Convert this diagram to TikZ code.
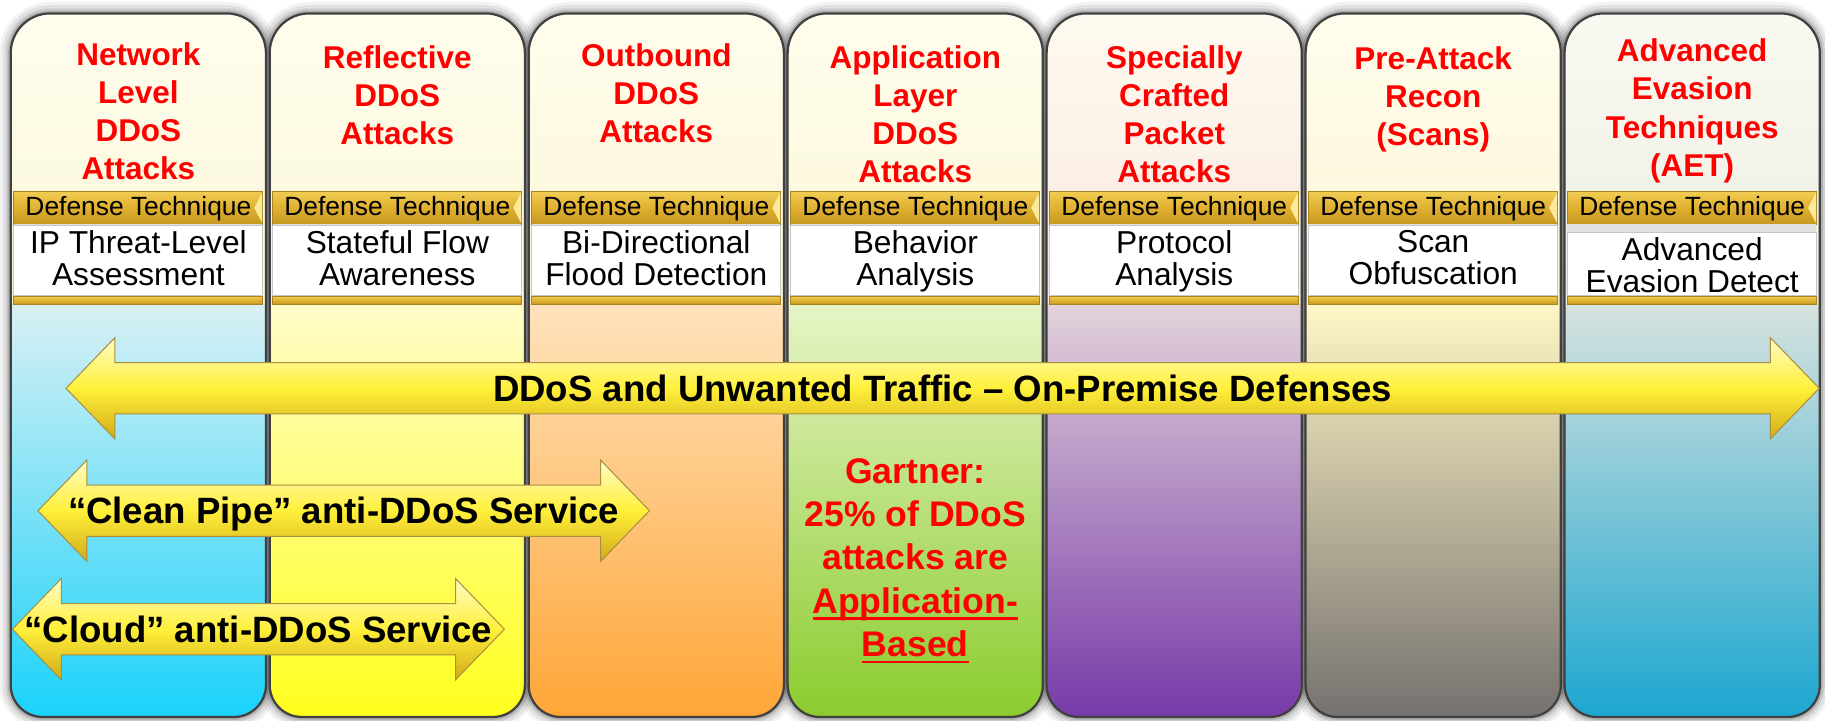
\documentclass[tikz,border=0pt]{standalone}
\usepackage{fontspec}
\setmainfont{Liberation Sans}
\usetikzlibrary{calc}

% column tints: upper (title) area and lower area, top and bottom of each gradient
\definecolor{upA0}{HTML}{FFFDEE}\definecolor{upB0}{HTML}{FCF7D8}
\definecolor{upA1}{HTML}{FFFDEE}\definecolor{upB1}{HTML}{FCF7D8}
\definecolor{upA2}{HTML}{FFFDEE}\definecolor{upB2}{HTML}{FCF5D6}
\definecolor{upA3}{HTML}{FFFDEE}\definecolor{upB3}{HTML}{FCF7D6}
\definecolor{upA4}{HTML}{FFFBF0}\definecolor{upB4}{HTML}{F7E8E0}
\definecolor{upA5}{HTML}{FFFDEE}\definecolor{upB5}{HTML}{FCF5D4}
\definecolor{upA6}{HTML}{FBFAF2}\definecolor{upB6}{HTML}{EBEDE2}
\definecolor{loA0}{HTML}{D8F0F4}\definecolor{loB0}{HTML}{18D2FA}
\definecolor{loA1}{HTML}{FFFCC8}\definecolor{loB1}{HTML}{FFFF1C}
\definecolor{loA2}{HTML}{FFE2BC}\definecolor{loB2}{HTML}{FFA535}
\definecolor{loA3}{HTML}{E6F4C6}\definecolor{loB3}{HTML}{8ACB2C}
\definecolor{loA4}{HTML}{E2D2DA}\definecolor{loB4}{HTML}{7638A8}
\definecolor{loA5}{HTML}{FFF6C6}\definecolor{loB5}{HTML}{74706E}
\definecolor{loA6}{HTML}{D6E2DE}\definecolor{loB6}{HTML}{1AA6D0}
\definecolor{goldA}{HTML}{F0CC52}
\definecolor{goldM}{HTML}{E0B030}
\definecolor{goldB}{HTML}{C49820}
\definecolor{goldEdge}{HTML}{A88420}
\definecolor{goldBevel}{HTML}{FAEB9A}
\definecolor{arrowHi}{HTML}{FFFBC8}
\definecolor{arrowMid}{HTML}{FFF03A}
\definecolor{arrowLo}{HTML}{D2AA18}
\definecolor{arrowEdge}{HTML}{A89040}
\definecolor{attackred}{HTML}{FF0000}

% outline of one column, left edge \L and right edge \R
\newcommand\colpath{(\L,300) [rounded corners=0.68cm] -- (\L,11.5) -- (\R,11.5) -- (\R,300) [rounded corners=0.55cm] -- (\R,616) -- (\L,616) -- cycle}

% double-headed banner arrow: left tip, right tip, centre line
\newcommand\banner[3]{%
  \shadedraw[bannerfill] (#1,#3) -- (#1+42,#3-43.5) -- (#1+42,#3-22) -- (#2-42,#3-22)
    -- (#2-42,#3-43.5) -- (#2,#3) -- (#2-42,#3+43.5) -- (#2-42,#3+22)
    -- (#1+42,#3+22) -- (#1+42,#3+43.5) -- cycle;}

% red underline sitting just under the baseline
\newcommand\redul[1]{\setbox0=\hbox{#1}\rlap{\rule[-3.2pt]{\wd0}{1.3pt}}\box0}

\begin{document}
\begin{tikzpicture}[x=0.02cm,y=-0.02cm,
  colborder/.style={draw=black!75, line width=1.1pt},
  band/.style={draw=goldEdge, line width=0.4pt, top color=goldA, bottom color=goldB, middle color=goldM},
  whitebox/.style={draw=black!22, line width=0.4pt, fill=white},
  bannerfill/.style={draw=arrowEdge, line width=0.5pt, top color=arrowHi, bottom color=arrowLo, middle color=arrowMid},
  title/.style={text=attackred, font=\bfseries\fontsize{15.4}{18.7}\selectfont, align=center, inner sep=0, anchor=north},
  deflabel/.style={text=black, font=\fontsize{12.9}{14}\selectfont, inner sep=0, anchor=base},
  techtext/.style={text=black, font=\fontsize{15.5}{15.8}\selectfont, align=center, inner sep=0, anchor=north},
  bannertext/.style={text=black, font=\bfseries\fontsize{17.9}{20}\selectfont, inner sep=0, anchor=base},
  gartner/.style={text=attackred, font=\bfseries\fontsize{17.4}{21.2}\selectfont, align=center, inner sep=0, anchor=north}]

\useasboundingbox (0,0) rectangle (1568,619);

% soft shadow around every column
\foreach \i in {0,...,6}{
  \pgfmathsetmacro\L{9.2+222.5*\i}
  \pgfmathsetmacro\R{\L+219.3}
  \foreach \w/\o in {11/0.05,8/0.07,5/0.09,3/0.13}
    \draw[line width=\w pt, black, opacity=\o] \colpath;
}

% column bodies with their gradients, gold bands and white boxes
\foreach \i/\wt in {0/194,1/194,2/194,3/194,4/194,5/194,6/200}{
  \pgfmathsetmacro\L{9.2+222.5*\i}
  \pgfmathsetmacro\R{\L+219.3}
  \begin{scope}
    \clip \colpath;
    \shade[top color=upA\i, bottom color=upB\i] (\L,0) rectangle (\R,264);
    \shade[top color=loA\i, bottom color=loB\i] (\L,262) rectangle (\R,620);
  \end{scope}
  \draw[colborder] \colpath;
  \shade[band] (\L+2.5,164.7) rectangle (\R-3,192.5);
  \fill[goldBevel] (\R-3.2,165.5) -- (\R-3.2,191.7) -- (\R-10,178.6) -- cycle;
  \fill[black!12] (\L+2.5,192.5) rectangle (\R-3,\wt);
  \path[whitebox] (\L+2.5,\wt) rectangle (\R-3,253.8);
  \shade[band] (\L+2.5,254.5) rectangle (\R-3,261.5);
}

% attack category titles
\foreach \i/\ty/\t in {
  0/36/{Network\\Level\\DDoS\\Attacks},
  1/38.5/{Reflective\\DDoS\\Attacks},
  2/37/{Outbound\\DDoS\\Attacks},
  3/38.5/{Application\\Layer\\DDoS\\Attacks},
  4/38.5/{Specially\\Crafted\\Packet\\Attacks},
  5/39.5/{Pre-Attack\\Recon\\(Scans)},
  6/33/{Advanced\\Evasion\\Techniques\\(AET)}}
  \node[title] (title\i) at ({118.9+222.5*\i},\ty) {\t};

% defense technique labels and descriptions
\foreach \i/\ty/\t in {
  0/197.5/{IP Threat-Level\\Assessment},
  1/197.5/{Stateful Flow\\Awareness},
  2/197.5/{Bi-Directional\\Flood Detection},
  3/197.5/{Behavior\\Analysis},
  4/197.5/{Protocol\\Analysis},
  5/197.5/{Scan\\Obfuscation},
  6/203.5/{Advanced\\Evasion Detect}}{
  \node[deflabel] (deflabel\i) at ({118.9+222.5*\i},185) {Defense Technique};
  \node[techtext] (tech\i) at ({118.9+222.5*\i},\ty) {\t};
}

% service banners
\banner{56.7}{1563}{333.6}
\node[bannertext] (onprem) at (809.9,344.7) {DDoS and Unwanted Traffic – On-Premise Defenses};
\banner{32.6}{558}{438.8}
\node[bannertext] (cleanpipe) at (295.3,450) {“Clean Pipe” anti-DDoS Service};
\banner{10.7}{433.4}{540.6}
\node[bannertext] (cloud) at (222,551.8) {“Cloud” anti-DDoS Service};

% statistic in the application-layer column
\node[gartner] (gartner) at (786.4,393.5)
  {Gartner:\\25\% of DDoS\\attacks are\\\redul{Application-}\\\redul{Based}};

\end{tikzpicture}
\end{document}
